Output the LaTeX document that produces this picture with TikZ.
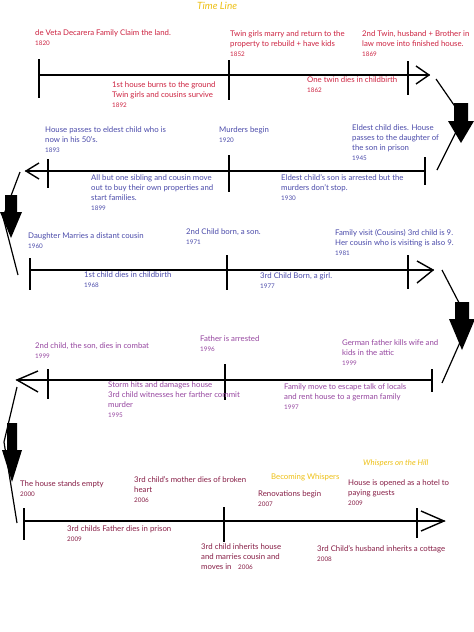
\documentclass[tikz,border=0pt]{standalone}
\usepackage{fontspec}
\setmainfont{Lato}
\definecolor{redA}{RGB}{205,35,65}
\definecolor{blueA}{RGB}{75,75,170}
\definecolor{purpA}{RGB}{150,70,160}
\definecolor{marA}{RGB}{135,30,70}
\definecolor{goldA}{RGB}{238,192,20}
\newcommand\tlfont{\fontsize{7.8}{10}\selectfont}
\newcommand\yr[1]{{\fontsize{6.3}{10}\selectfont #1}}
\begin{document}
\begin{tikzpicture}[x=1pt,y=-1pt,
  axisline/.style={line width=1.5pt,line cap=round},
  tickline/.style={line width=1.5pt},
  chev/.style={line width=1.4pt},
  conn/.style={line width=1.2pt},
  blk/.style={fill=black},
  tl/.style={align=left,inner sep=0pt,anchor=north west,font=\tlfont}]
\fill[white] (0,0) rectangle (474,632);
\useasboundingbox (0,0) rectangle (474,632);

\node[tl,text=goldA,font=\fontsize{10}{12}\selectfont\itshape] (title) at (197,2) {Time Line};

% ---------- timeline 1
\coordinate (t1s) at (39,75); \coordinate (t1e) at (429,75);
\draw[axisline] (t1s) -- (t1e);
\draw[chev] (416,66) -- (t1e) -- (416,84);
\draw[tickline] (39,59) -- (39,98);
\draw[tickline] (229,60) -- (229,100);
\draw[tickline] (408,61) -- (408,95);
\node[tl,text=redA] (a1) at (35,30) {de Veta Decarera Family Claim the land.\\\yr{1820}};
\node[tl,text=redA] (a2) at (112,82) {1st house burns to the ground\\Twin girls and cousins survive\\\yr{1892}};
\node[tl,text=redA] (a3) at (230,31) {Twin girls marry and return to the\\property to rebuild + have kids\\\yr{1852}};
\node[tl,text=redA] (a4) at (362,31) {2nd Twin, husband + Brother in\\law move into finished house.\\\yr{1869}};
\node[tl,text=redA] (a5) at (307,77) {One twin dies in childbirth\\\yr{1862}};

% connector 1 (right)
\coordinate (c1a) at (436,79); \coordinate (c1b) at (463,118); \coordinate (c1c) at (437,170);
\draw[conn] (c1a) -- (c1b) -- (c1c);
\fill[blk] (454,103) -- (468,103) -- (468,121) -- (474,121) -- (461,143) -- (448,121) -- (454,121) -- cycle;

% ---------- timeline 2
\coordinate (t2s) at (425,171); \coordinate (t2e) at (26,171);
\draw[axisline] (t2s) -- (t2e);
\draw[chev] (39,163) -- (t2e) -- (39,179);
\draw[tickline] (48,159) -- (48,188);
\draw[tickline] (229,155) -- (229,192);
\draw[tickline] (425,157) -- (425,185);
\node[tl,text=blueA] (b1) at (45,127) {House passes to eldest child who is\\now in his 50's.\\\yr{1893}};
\node[tl,text=blueA] (b2) at (219,127) {Murders begin\\\yr{1920}};
\node[tl,text=blueA] (b3) at (91,175) {All but one sibling and cousin move\\out to buy their own properties and\\start families.\\\yr{1899}};
\node[tl,text=blueA] (b4) at (352,125) {Eldest child dies. House\\passes to the daughter of\\the son in prison\\\yr{1945}};
\node[tl,text=blueA] (b5) at (281,174) {Eldest child's son is arrested but the\\murders don't stop.\\\yr{1930}};

% connector 2 (left)
\coordinate (c2a) at (20,172); \coordinate (c2b) at (3,217); \coordinate (c2c) at (18,275);
\draw[conn] (c2a) -- (c2b) -- (c2c);
\fill[blk] (5,195) -- (17,195) -- (17,212) -- (22,212) -- (11,238) -- (0,212) -- (5,212) -- cycle;

% ---------- timeline 3
\coordinate (t3s) at (30,270); \coordinate (t3e) at (433,270);
\draw[axisline] (t3s) -- (t3e);
\draw[chev] (417,261) -- (t3e) -- (417,283);
\draw[tickline] (30,258) -- (30,290);
\draw[tickline] (227,255) -- (227,290);
\draw[tickline] (408,255) -- (408,289);
\node[tl,text=blueA] (c1) at (28,233) {Daughter Marries a distant cousin\\\yr{1960}};
\node[tl,text=blueA] (c2) at (186,229) {2nd Child born, a son.\\\yr{1971}};
\node[tl,text=blueA] (c3) at (335,229) {Family visit (Cousins) 3rd child is 9.\\Her cousin who is visiting is also 9.\\\yr{1981}};
\node[tl,text=blueA] (c4) at (84,272) {1st child dies in childbirth\\\yr{1968}};
\node[tl,text=blueA] (c5) at (260,273) {3rd Child Born, a girl.\\\yr{1977}};

% connector 3 (right)
\coordinate (c3a) at (442,270); \coordinate (c3b) at (469,322); \coordinate (c3c) at (442,383);
\draw[conn] (c3a) -- (c3b) -- (c3c);
\fill[blk] (455,302) -- (469,302) -- (469,319) -- (475,319) -- (462,350) -- (449,319) -- (455,319) -- cycle;

% ---------- timeline 4
\coordinate (t4s) at (432,380); \coordinate (t4e) at (17,380);
\draw[axisline] (t4s) -- (t4e);
\draw[chev] (38,371) -- (t4e) -- (38,392);
\draw[tickline] (48,369) -- (48,399);
\draw[tickline] (225,364) -- (225,400);
\draw[tickline] (432,369) -- (432,392);
\node[tl,text=purpA] (d1) at (35,343) {2nd child, the son, dies in combat\\\yr{1999}};
\node[tl,text=purpA] (d2) at (200,336) {Father is arrested\\\yr{1996}};
\node[tl,text=purpA] (d3) at (342,340) {German father kills wife and\\kids in the attic\\\yr{1999}};
\node[tl,text=purpA] (d4) at (108,382) {Storm hits and damages house\\3rd child witnesses her farther commit\\murder\\\yr{1995}};
\node[tl,text=purpA] (d5) at (284,384) {Family move to escape talk of locals\\and rent house to a german family\\\yr{1997}};

% connector 4 (left)
\coordinate (c4a) at (17,387); \coordinate (c4b) at (4,442); \coordinate (c4c) at (17,523);
\draw[conn] (c4a) -- (c4b) -- (c4c);
\fill[blk] (7,423) -- (17,423) -- (17,450) -- (22,450) -- (12,482) -- (2,450) -- (7,450) -- cycle;

% ---------- timeline 5
\coordinate (t5s) at (24,521); \coordinate (t5e) at (444,521);
\draw[axisline] (t5s) -- (t5e);
\draw[chev] (421,511) -- (t5e) -- (421,531);
\draw[tickline] (24,508) -- (24,540);
\draw[tickline] (224,507) -- (224,542);
\draw[tickline] (417,508) -- (417,538);
\node[tl,text=marA] (e1) at (20,481) {The house stands empty\\\yr{2000}};
\node[tl,text=marA] (e2) at (134,476) {3rd child's mother dies of broken\\heart\\\yr{2006}};
\node[tl,text=goldA] (g1) at (271,474) {Becoming Whispers};
\node[tl,text=marA] (e3) at (258,491) {Renovations begin\\\yr{2007}};
\node[tl,text=goldA,font=\tlfont\itshape] (g2) at (363,460) {Whispers on the Hill};
\node[tl,text=marA] (e4) at (348,480) {House is opened as a hotel to\\paying guests\\\yr{2009}};
\node[tl,text=marA] (e5) at (67,526) {3rd childs Father dies in prison\\\yr{2009}};
\node[tl,text=marA] (e6) at (201,544) {3rd child inherits house\\and marries cousin and\\moves in};
\node[tl,text=marA] (e6y) at (238,565) {\yr{2006}};
\node[tl,text=marA] (e7) at (317,545) {3rd Child's husband inherits a cottage\\\yr{2008}};
\end{tikzpicture}
\end{document}
